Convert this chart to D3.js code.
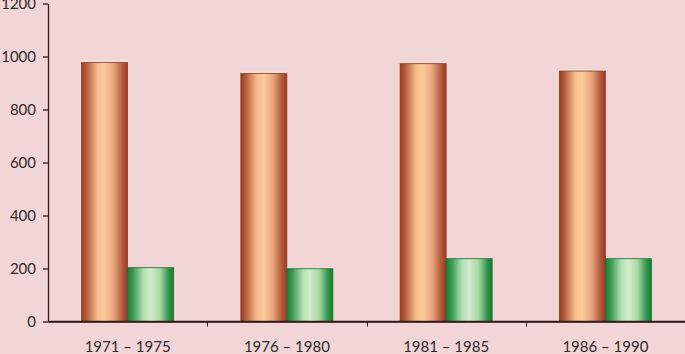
<!DOCTYPE html>
<html>
<head>
<meta charset="utf-8">
<script src="https://cdn.jsdelivr.net/npm/d3@7"></script>
<style>
  html, body { margin: 0; padding: 0; background: #f1d5d7; }
  svg text { font-family: Lato, "Open Sans", sans-serif; fill: #2e2a2a; }
</style>
</head>
<body>
<svg width="685" height="354"></svg>
<script>
const periods = ["1971 – 1975", "1976 – 1980", "1981 – 1985", "1986 – 1990"];
const seriesA = [977, 936, 973, 945];
const seriesB = [203, 199, 237, 237];
const yTicks = [0, 200, 400, 600, 800, 1000, 1200];

const svg = d3.select("svg");
const width = +svg.attr("width");
const height = +svg.attr("height");
const padding = { top: 3.5, right: 0, bottom: 32.5, left: 48 };

svg.append("rect").attr("width", width).attr("height", height).attr("fill", "#f1d5d7");

// gradients
const defs = svg.append("defs");
function addGradient(id, stops) {
    const g = defs.append("linearGradient").attr("id", id)
        .attr("x1", "0%").attr("x2", "100%").attr("y1", "0%").attr("y2", "0%");
    stops.forEach(s => g.append("stop").attr("offset", s[0]).attr("stop-color", s[1]));
}
addGradient("gradA", [["0%", "#9c3a22"], ["12%", "#b8623f"], ["35%", "#f6bd8e"], ["50%", "#fcc99a"], ["70%", "#e6a57c"], ["90%", "#b0553a"], ["100%", "#9a3a24"]]);
addGradient("gradB", [["0%", "#1a7c34"], ["12%", "#3b9a52"], ["35%", "#b5e0b3"], ["50%", "#d2ecca"], ["70%", "#a8d8a6"], ["90%", "#2f9248"], ["100%", "#1a7c34"]]);

const x = d3.scaleBand()
    .domain(periods)
    .range([padding.left, width - padding.right]);

const inner = d3.scaleBand()
    .domain(["a", "b"])
    .range([0, x.bandwidth()])
    .paddingOuter(0.73)
    .paddingInner(0);

const y = d3.scaleLinear()
    .domain([0, 1200])
    .range([height - padding.bottom, padding.top]);

// axes
const yAxis = svg.append("g")
    .attr("transform", `translate(${padding.left},0)`)
    .call(d3.axisLeft(y).tickValues(yTicks).tickFormat(d3.format("d")).tickSize(5).tickPadding(7).tickSizeOuter(0));
yAxis.selectAll("text").style("font-size", "15px");

const xAxis = svg.append("g")
    .attr("transform", `translate(0,${height - padding.bottom})`)
    .call(d3.axisBottom(x).tickSize(0).tickPadding(20).tickSizeOuter(0));
xAxis.selectAll("text").style("font-size", "15px");

// boundary ticks
svg.append("g").selectAll("line")
    .data(periods.slice(1))
    .enter()
    .append("line")
    .attr("x1", d => Math.round(x(d)) + 0.5)
    .attr("x2", d => Math.round(x(d)) + 0.5)
    .attr("y1", y(0))
    .attr("y2", y(0) + 5)
    .attr("stroke", "#2e1a1a");

svg.selectAll(".domain, .tick line").attr("stroke", "#2e1a1a").attr("stroke-width", 1.3);

// bars
const groups = svg.append("g").selectAll("g")
    .data(periods)
    .enter()
    .append("g")
    .attr("transform", d => `translate(${x(d)},0)`);

groups.append("rect")
    .attr("x", inner("a") - 1)
    .attr("y", (d, i) => y(seriesA[i]) - 2)
    .attr("width", inner.bandwidth() + 2)
    .attr("height", (d, i) => y(0) - y(seriesA[i]) + 2)
    .attr("fill", "#f8e4e4")
    .attr("opacity", 0.6);

groups.append("rect")
    .attr("x", inner("a"))
    .attr("y", (d, i) => y(seriesA[i]))
    .attr("width", inner.bandwidth())
    .attr("height", (d, i) => y(0) - y(seriesA[i]))
    .attr("fill", "url(#gradA)")
    .attr("stroke", "#8e3a22")
    .attr("stroke-width", 0.8);

groups.append("rect")
    .attr("x", inner("b"))
    .attr("y", (d, i) => y(seriesB[i]))
    .attr("width", inner.bandwidth())
    .attr("height", (d, i) => y(0) - y(seriesB[i]))
    .attr("fill", "url(#gradB)")
    .attr("stroke", "#1d6e30")
    .attr("stroke-width", 0.8);

// redraw x axis line on top
svg.append("line")
    .attr("x1", padding.left).attr("x2", width)
    .attr("y1", y(0)).attr("y2", y(0))
    .attr("stroke", "#2e1a1a").attr("stroke-width", 1.3);
</script>
</body>
</html>
